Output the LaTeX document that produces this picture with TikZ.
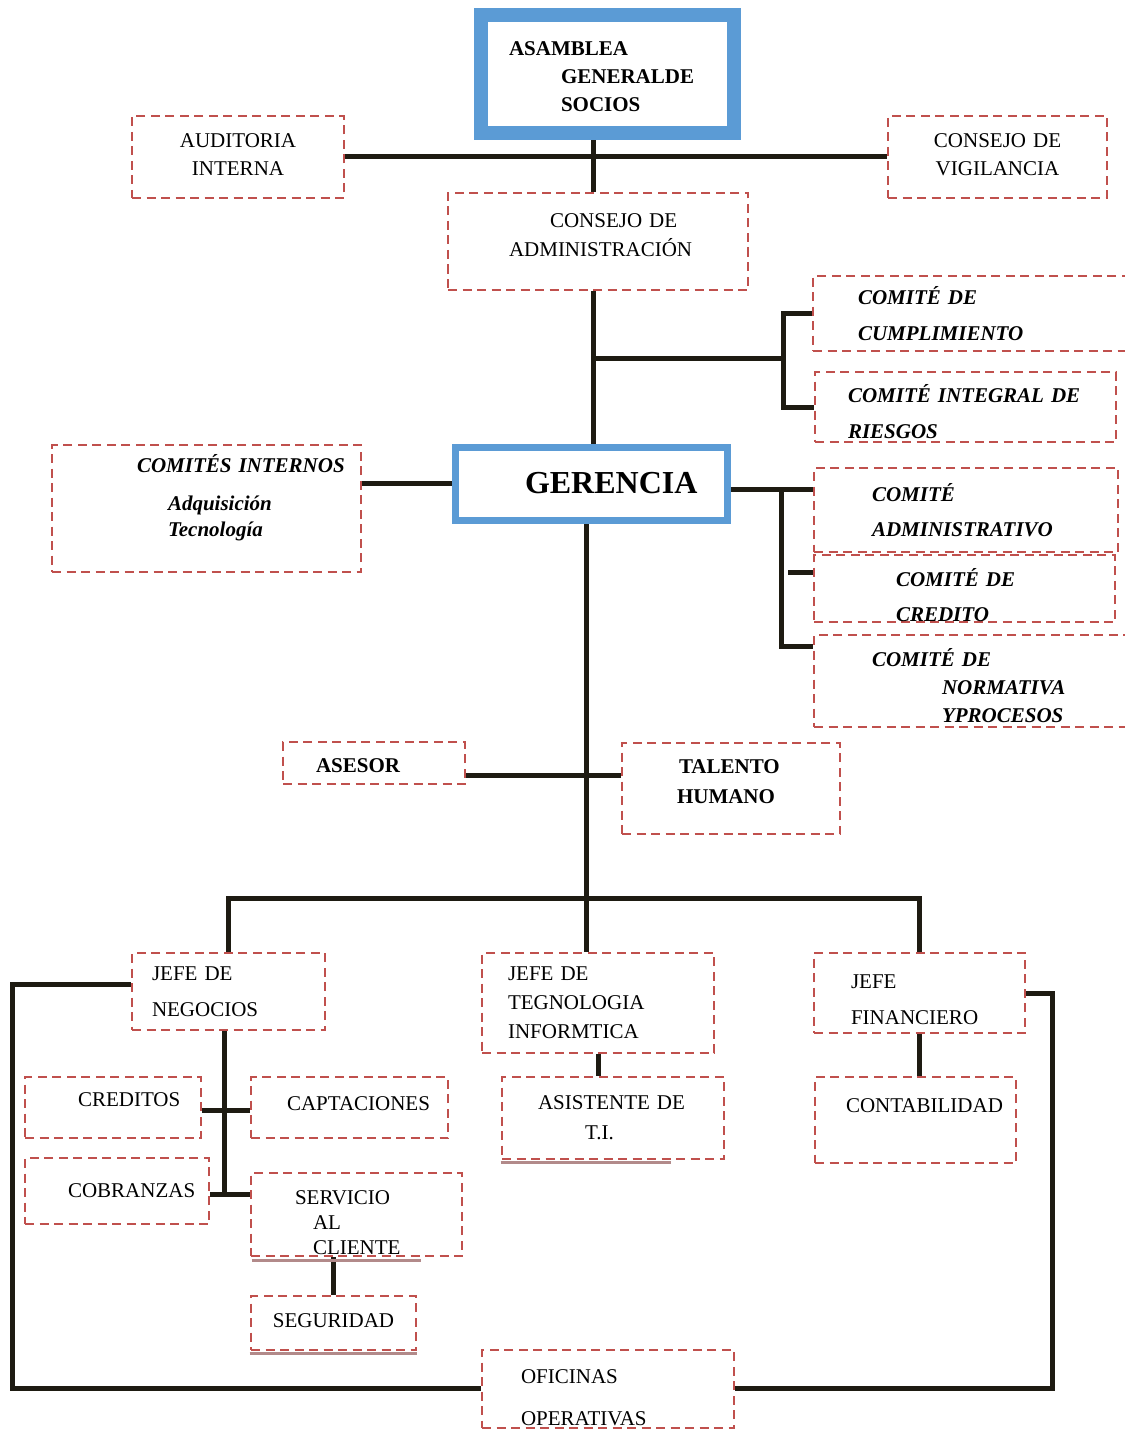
\documentclass[tikz,border=0pt]{standalone}
\usepackage{fontspec}
\setmainfont{Liberation Serif}
\usepackage{tikz}
\usetikzlibrary{backgrounds}
\definecolor{azulc}{RGB}{91,155,213}
\definecolor{rojoc}{RGB}{192,80,77}
\definecolor{negroc}{RGB}{30,27,18}
\definecolor{rosado}{RGB}{178,138,138}
\newcommand{\bajar}[1]{\rule{0pt}{#1}}
\newcommand{\subir}[1]{\rule[-#1]{0pt}{0pt}}

\begin{document}
\begin{tikzpicture}[x=1pt,y=-1pt,
  caja/.style={draw=rojoc, line width=2.6pt, dash pattern=on 9pt off 5.5pt, fill=white, inner xsep=10pt, inner ysep=0pt, align=left, font=\fontsize{21}{28}\selectfont},
  marco/.style={draw=azulc, fill=white, inner xsep=10pt, inner ysep=0pt, align=left, font=\bfseries\fontsize{21}{28}\selectfont},
  comite/.style={caja, font=\bfseries\itshape\fontsize{21}{36}\selectfont},
  linea/.style={line width=5pt, draw=negroc},
  sombra/.style={line width=3.5pt, draw=rosado}]
  \useasboundingbox (0,0) rectangle (1124,1431);

  \coordinate (t1) at (593,358);
  \coordinate (b1) at (783,358);
  \coordinate (r1) at (781,489);
  \coordinate (r2) at (781,646);
  \coordinate (r3) at (788,572);
  \coordinate (t2) at (586,898);
  \coordinate (t3) at (586,775);
  \coordinate (n1) at (224,1110);
  \coordinate (n2) at (224,1194);
  \coordinate (l1) at (12,1388);
  \coordinate (l2) at (1052,1388);

  \node [marco, line width=14pt, text width=233pt, minimum height=118pt] (asamblea) at (607.5,74) {\bajar{20pt}\hspace*{18pt}ASAMBLEA\\\hspace*{70pt}GENERALDE\\\hspace*{70pt}SOCIOS};
  \node [caja, align=center, text width=192pt, minimum height=82pt] (auditoria) at (238,157) {AUDITORIA\\INTERNA\subir{4pt}};
  \node [caja, align=center, text width=199pt, minimum height=82pt] (vigilancia) at (997.5,157) {CONSEJO DE\\VIGILANCIA\subir{4pt}};
  \node [caja, text width=280pt, minimum height=97pt, font=\fontsize{21}{29}\selectfont] (administracion) at (598,241.5) {\hspace*{92pt}CONSEJO DE\\\hspace*{51pt}ADMINISTRACIÓN\subir{12pt}};
  \node [comite, text width=297pt, minimum height=75pt] (cumplimiento) at (971.5,313.5) {\hspace*{35pt}COMITÉ DE\\\hspace*{35pt}CUMPLIMIENTO};
  \node [comite, text width=281pt, minimum height=70pt] (riesgos) at (965.5,407) {\bajar{27pt}\hspace*{23pt}COMITÉ INTEGRAL DE\\\hspace*{23pt}RIESGOS};

  \node [marco, line width=7pt, text width=252pt, minimum height=73pt, font=\bfseries\fontsize{32}{36}\selectfont] (gerencia) at (591,483.5) {\hspace*{60pt}GERENCIA};
  \node [comite, text width=289pt, minimum height=127pt, font=\bfseries\itshape\fontsize{21}{26}\selectfont] (internos) at (206.5,508.5) {\hspace*{75pt}COMITÉS INTERNOS\\[12pt]\hspace*{106pt}Adquisición\\\hspace*{106pt}Tecnología\\\mbox{}};
  \node [comite, text width=284pt, minimum height=84pt, font=\bfseries\itshape\fontsize{21}{35}\selectfont] (administrativo) at (966,510) {\hspace*{48pt}COMITÉ\\\hspace*{48pt}ADMINISTRATIVO};
  \node [comite, text width=281pt, minimum height=67pt, font=\bfseries\itshape\fontsize{21}{35}\selectfont] (credito) at (964.5,588.5) {\bajar{31pt}\hspace*{72pt}COMITÉ DE\\\hspace*{72pt}CREDITO};
  \node [comite, text width=296pt, minimum height=92pt, font=\bfseries\itshape\fontsize{21}{28}\selectfont] (normativa) at (972,681) {\bajar{27pt}\hspace*{48pt}COMITÉ DE\\\hspace*{118pt}NORMATIVA\\\hspace*{118pt}YPROCESOS};

  \node [caja, text width=162pt, minimum height=42pt, font=\bfseries\fontsize{21}{28}\selectfont] (asesor) at (374,763) {\bajar{20pt}\hspace*{23pt}ASESOR};
  \node [caja, text width=198pt, minimum height=91pt, font=\bfseries\fontsize{21}{30}\selectfont] (talento) at (731,788.5) {\hspace*{47pt}TALENTO\\\hspace*{45pt}HUMANO\subir{14pt}};

  \node [caja, text width=173pt, minimum height=77pt, font=\fontsize{21}{36}\selectfont] (negocios) at (228.5,991.5) {\hspace*{10pt}JEFE DE\\\hspace*{10pt}NEGOCIOS};
  \node [caja, text width=212pt, minimum height=100pt, font=\fontsize{21}{29}\selectfont] (tecnologia) at (598,1003) {\hspace*{16pt}JEFE DE\\\hspace*{16pt}TEGNOLOGIA\\\hspace*{16pt}INFORMTICA};
  \node [caja, text width=191pt, minimum height=80pt, font=\fontsize{21}{36}\selectfont] (financiero) at (919.5,993) {\bajar{28pt}\hspace*{27pt}JEFE\\\hspace*{27pt}FINANCIERO};

  \node [caja, text width=156pt, minimum height=61pt] (creditos) at (113,1107.5) {\hspace*{43pt}CREDITOS\subir{16pt}};
  \node [caja, text width=177pt, minimum height=61pt] (captaciones) at (349.5,1107.5) {\hspace*{26pt}CAPTACIONES\subir{8pt}};
  \node [caja, text width=164pt, minimum height=66pt] (cobranzas) at (117,1191) {\hspace*{33pt}COBRANZAS};
  \node [caja, text width=191pt, minimum height=83pt, font=\fontsize{21}{25}\selectfont] (servicio) at (356.5,1214.5) {\bajar{30pt}\hspace*{34pt}SERVICIO\\\hspace*{52pt}AL\\\hspace*{52pt}CLIENTE};
  \node [caja, align=center, text width=145pt, minimum height=54pt] (seguridad) at (333.5,1323) {SEGURIDAD\subir{4pt}};
  \node [caja, text width=202pt, minimum height=82pt, font=\fontsize{21}{30}\selectfont] (asistente) at (613,1118) {\hspace*{26pt}ASISTENTE DE\\\hspace*{73pt}T.I.};
  \node [caja, text width=181pt, minimum height=86pt] (contabilidad) at (915.5,1120) {\hspace*{21pt}CONTABILIDAD\\\mbox{}};
  \node [caja, text width=232pt, minimum height=78pt, font=\fontsize{21}{42}\selectfont] (oficinas) at (608,1389) {\bajar{32pt}\hspace*{29pt}OFICINAS\\\hspace*{29pt}OPERATIVAS};

  \begin{scope}[on background layer={linea}]
    \draw (asamblea.south -| t1) -- (administracion.north -| t1);
    \draw (auditoria.east) -- (vigilancia.west);
    \draw (administracion.south -| t1) -- (gerencia.north -| t1);
    \draw (t1) -- (b1);
    \draw (cumplimiento.west) -| (b1) |- (riesgos.west);
    \draw (internos.east |- gerencia.west) -- (gerencia.west);
    \draw (gerencia.east |- r1) -- (administrativo.west |- r1);
    \draw (r1) -- (r2) -- (normativa.west |- r2);
    \draw (r3) -- (credito.west |- r3);
    \draw (gerencia.south -| t2) -- (t2);
    \draw (asesor.east |- t3) -- (talento.west |- t3);
    \draw (negocios.north) |- (t2) -| (financiero.north);
    \draw (t2) -- (tecnologia.north -| t2);
    \draw (negocios.south -| n1) -- (n2);
    \draw (creditos.east |- n1) -- (captaciones.west |- n1);
    \draw (cobranzas.east |- n2) -- (servicio.west |- n2);
    \draw (servicio.south -| seguridad.north) -- (seguridad.north);
    \draw (tecnologia.south) -- (asistente.north -| tecnologia.south);
    \draw (financiero.south) -- (contabilidad.north -| financiero.south);
    \draw ([yshift=7.5pt]negocios.west) -| (l1) -- (oficinas.west |- l1);
    \draw (financiero.east) -| (l2) -- (oficinas.east |- l2);
    \draw [sombra] ([xshift=2pt,yshift=-3pt]servicio.south west) -- ([xshift=-42pt,yshift=-3pt]servicio.south east);
    \draw [sombra] ([yshift=-2pt]asistente.south west) -- ([xshift=-54pt,yshift=-2pt]asistente.south east);
    \draw [sombra] ([yshift=-2pt]seguridad.south west) -- ([yshift=-2pt]seguridad.south east);
  \end{scope}
\end{tikzpicture}
\end{document}
